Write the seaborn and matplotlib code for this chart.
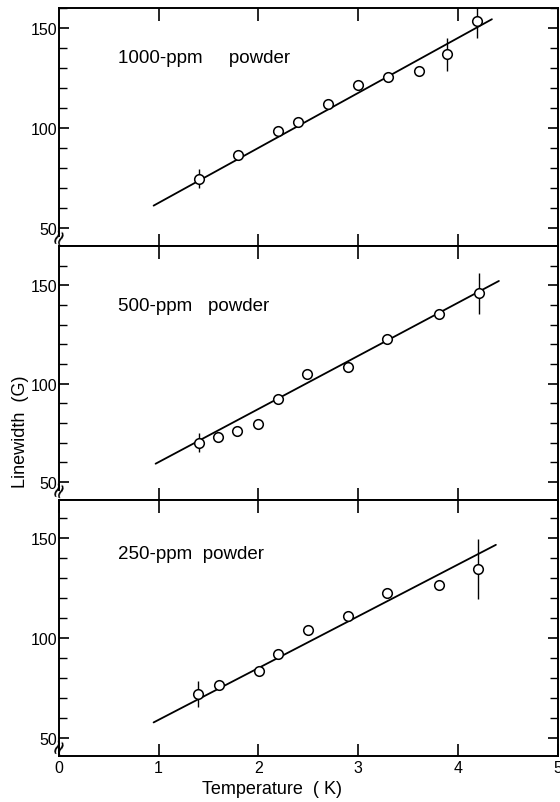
import numpy as np
import pandas as pd
import matplotlib
matplotlib.use('Agg')
import matplotlib.pyplot as plt
import seaborn as sns

# Data: temperature (K) vs linewidth (G)
t_1000 = [1.40, 1.80, 2.20, 2.40, 2.70, 3.00, 3.30, 3.61, 3.89, 4.19]
w_1000 = [74.8, 86.8, 98.6, 103.3, 112.3, 121.7, 125.5, 128.8, 137.0, 153.7]
e_1000 = [4.8, 0, 0, 0, 0, 0, 0, 0, 8.2, 8.7]
fit_t_1000 = [0.95, 4.34]
fit_w_1000 = [61.3, 154.5]

t_500 = [1.40, 1.60, 1.79, 2.00, 2.20, 2.49, 2.90, 3.29, 3.81, 4.21]
w_500 = [69.9, 73.0, 75.7, 79.4, 92.4, 104.8, 108.7, 122.8, 135.7, 146.1]
e_500 = [4.8, 0, 0, 0, 0, 0, 0, 0, 0, 10.5]
fit_t_500 = [0.97, 4.41]
fit_w_500 = [59.2, 152.3]

t_250 = [1.39, 1.61, 2.01, 2.20, 2.50, 2.90, 3.29, 3.81, 4.20]
w_250 = [72.3, 76.7, 83.8, 92.2, 104.0, 111.0, 122.8, 126.7, 134.7]
e_250 = [6.4, 0, 0, 0, 0, 0, 0, 0, 15.0]
fit_t_250 = [0.95, 4.38]
fit_w_250 = [58.0, 146.8]

labels = ['1000-ppm     powder', '500-ppm   powder', '250-ppm  powder']
ylims = [(41.2, 160.2), (40.8, 170.2), (41.3, 169.3)]

sns.set_theme(style='ticks')
plt.rcParams['font.family'] = ['Liberation Sans', 'DejaVu Sans']
plt.rcParams['axes.linewidth'] = 1.4
for k in ['text.color', 'axes.labelcolor', 'xtick.color', 'ytick.color', 'axes.edgecolor']:
    plt.rcParams[k] = 'black'

fig = plt.figure(figsize=(5.6, 8.03), dpi=100)
gs = fig.add_gridspec(3, 1, height_ratios=[238, 254, 256], hspace=0,
                      left=0.105, right=0.996, top=0.989, bottom=0.0575)

panels = [
    (t_1000, w_1000, e_1000, fit_t_1000, fit_w_1000),
    (t_500, w_500, e_500, fit_t_500, fit_w_500),
    (t_250, w_250, e_250, fit_t_250, fit_w_250),
]

for i, (t, w, e, ft, fw) in enumerate(panels):
    ax = fig.add_subplot(gs[i])
    pts = pd.DataFrame({'T': t, 'W': w})
    fit = pd.DataFrame({'T': ft, 'W': fw})
    sns.lineplot(data=fit, x='T', y='W', color='black', lw=1.3, ax=ax)
    ax.errorbar(t, w, yerr=e, fmt='none', ecolor='black', elinewidth=1.0, capsize=0, zorder=3)
    sns.scatterplot(data=pts, x='T', y='W', marker='o', s=48, facecolor='white',
                    edgecolor='black', linewidth=1.1, zorder=4, ax=ax)
    ax.set_xlim(0, 5)
    ax.set_ylim(*ylims[i])
    ax.set_xticks([1, 2, 3, 4])
    ax.set_yticks([50, 100, 150])
    ax.set_yticks(np.arange(60, 170, 10), minor=True)
    ax.tick_params(axis='both', which='both', direction='in',
                   top=True, bottom=True, left=True, right=True)
    ax.tick_params(axis='y', which='major', length=7, width=1.2, labelsize=11.5, pad=1)
    ax.tick_params(axis='y', which='minor', length=6, width=1.0)
    ax.tick_params(axis='x', which='major', length=9, width=1.2, labelsize=11.5, pad=3)
    ax.set_xlabel('')
    ax.set_ylabel('')
    if i < 2:
        ax.tick_params(axis='x', labelbottom=False)
        ax.spines['left'].set_bounds(46, ylims[i][1])
    else:
        ax.set_xticks([0, 1, 2, 3, 4, 5])
    # axis break mark on the left spine
    ax.text(0, 47.0, '≈', rotation=70, fontsize=15, ha='center', va='center',
            family='DejaVu Sans', clip_on=False, zorder=5)
    ax.text(0.118, 0.79 if i != 1 else 0.767, labels[i], transform=ax.transAxes,
            fontsize=13.5, ha='left', va='center')

fig.text(21 / 560, 1 - 432 / 803, 'Linewidth  (G)', rotation=90, fontsize=13,
         ha='center', va='center')
fig.text(272 / 560, 1 - 790 / 803, 'Temperature  ( K)', fontsize=13,
         ha='center', va='center')

fig.savefig('out.png', dpi=100)
